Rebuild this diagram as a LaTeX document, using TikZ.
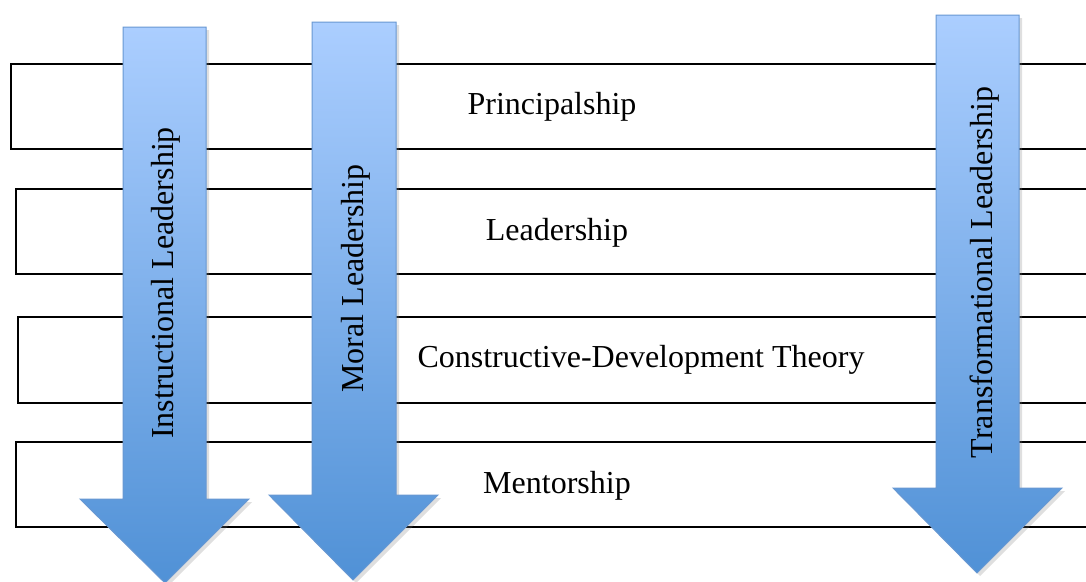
\documentclass[tikz,border=0pt]{standalone}
\usepackage{fontspec}
\setmainfont{Liberation Serif}
\usetikzlibrary{shadows}
\definecolor{arrtop}{RGB}{171,206,255}
\definecolor{arrbot}{RGB}{80,145,214}
\definecolor{arredge}{RGB}{104,152,210}
\tikzset{
  band/.style={draw=black, line width=2pt, fill=white},
  bandtext/.style={anchor=base, font=\fontsize{32}{38}\selectfont, inner sep=0pt},
  arrtext/.style={anchor=base, rotate=90, font=\fontsize{32}{38}\selectfont, inner sep=0pt},
  bigarrow/.style={top color=arrtop, bottom color=arrbot, draw=arredge, line width=1pt, line join=miter,
    drop shadow={opacity=0.25, shadow xshift=3pt, shadow yshift=-3pt}}
}
\begin{document}
\begin{tikzpicture}[x=1pt,y=-1pt]
\useasboundingbox (0,0) rectangle (1086,581);
\clip (0,0) rectangle (1086,581);
\fill[white] (0,0) rectangle (1086,581);
% bands
\draw[band] (11,64) rectangle (1100,149);
\draw[band] (16,189) rectangle (1100,274);
\draw[band] (18,317) rectangle (1100,403);
\draw[band] (16,442) rectangle (1100,527);
% band labels
\node[bandtext] (principalship) at (552,114) {Principalship};
\node[bandtext] (leadership) at (557,240) {Leadership};
\node[bandtext] (cdt) at (641,367) {Constructive-Development Theory};
\node[bandtext] (mentorship) at (557,493) {Mentorship};
% arrows
\path[bigarrow] (123,27) -- (206,27) -- (206,499) -- (249,499) -- (165,583) -- (80,499) -- (123,499) -- cycle;
\path[bigarrow] (312,22) -- (396,22) -- (396,495) -- (438,495) -- (353,580) -- (269,495) -- (312,495) -- cycle;
\path[bigarrow] (936,15) -- (1019,15) -- (1019,488) -- (1062,488) -- (977,573) -- (893,488) -- (936,488) -- cycle;
% arrow labels
\node[arrtext] (instr) at (173,283) {Instructional Leadership};
\node[arrtext] (moral) at (363,278.5) {Moral Leadership};
\node[arrtext] (transf) at (992,272.5) {Transformational Leadership};
\end{tikzpicture}
\end{document}
